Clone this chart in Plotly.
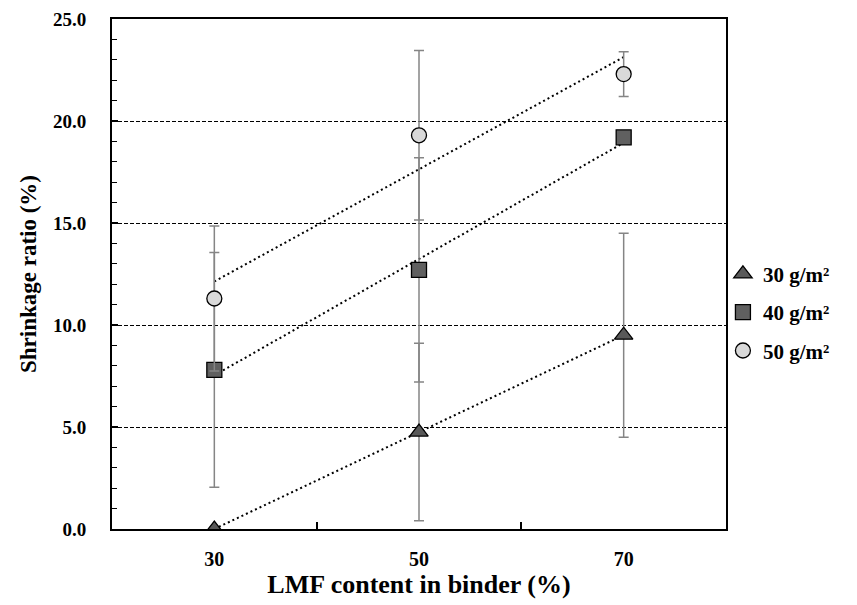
import numpy as np
import plotly.graph_objects as go

# ---- data ----
lmf_content = [30, 50, 70]
series_names = ["30 g/m²", "40 g/m²", "50 g/m²"]
shrink_30 = [0.0, 4.75, 9.5]
shrink_40 = [7.8, 12.7, 19.2]
shrink_50 = [11.3, 19.3, 22.3]
err_30 = [0.0, 4.35, 5.0]
err_40 = [5.75, 5.5, 0.0]
err_50 = [3.55, 4.15, 1.1]
y_tick_vals = [0, 5, 10, 15, 20, 25]
x_tick_vals = [30, 50, 70]

series = [
    (series_names[0], shrink_30, err_30, "triangle-up", "#595959", 16),
    (series_names[1], shrink_40, err_40, "square", "#606060", 15),
    (series_names[2], shrink_50, err_50, "circle", "#d9d9d9", 15),
]

FONT = "Liberation Serif, Times New Roman, serif"

fig = go.Figure()

# trendlines (linear fit) first so markers sit above them
xfit = np.array(lmf_content, dtype=float)
for name, ys, errs, sym, col, sz in series:
    k, b = np.polyfit(xfit, np.array(ys, dtype=float), 1)
    xl = np.array([xfit.min(), xfit.max()])
    fig.add_trace(go.Scatter(
        x=xl, y=k * xl + b, mode="lines",
        line=dict(color="black", width=2, dash="2px,3px"),
        showlegend=False, hoverinfo="skip"))

for i, (name, ys, errs, sym, col, sz) in enumerate(series):
    fig.add_trace(go.Scatter(
        x=lmf_content, y=ys, mode="markers", name=name,
        legendgroup=f"g{i}",
        marker=dict(symbol=sym, size=sz, color=col,
                    line=dict(color="black", width=1.3)),
        error_y=dict(type="data", array=errs, visible=True,
                     color="#858585", thickness=1.5, width=5),
    ))

fig.update_layout(
    width=857, height=605,
    margin=dict(l=112, r=131, t=19, b=76, autoexpand=False),
    paper_bgcolor="white", plot_bgcolor="white",
    font=dict(family=FONT, color="black", size=19),
    legend=dict(x=0.995, y=0.425, xanchor="left", yanchor="middle",
                font=dict(family=FONT, size=21, color="black", weight="bold"),
                itemwidth=30, tracegroupgap=8, bgcolor="rgba(0,0,0,0)"),
)

fig.update_xaxes(
    range=[20, 80], tickvals=x_tick_vals, ticktext=[str(v) for v in x_tick_vals],
    ticks="", showgrid=False, zeroline=False, automargin=False,
    showline=True, linecolor="black", linewidth=2, mirror=True,
    tickfont=dict(family=FONT, size=20, color="black", weight="bold"),
    ticklabelstandoff=11,
    minor=dict(tickvals=[40, 60], ticks="inside", ticklen=7,
               tickcolor="black", tickwidth=1.5, showgrid=False),
    title=dict(text="LMF content in binder (%)", standoff=0,
               font=dict(family=FONT, size=26, color="black", weight="bold")),
)

fig.update_yaxes(
    range=[0, 25], tickvals=y_tick_vals, tickformat=".1f",
    ticks="inside", ticklen=6, tickwidth=1.5, tickcolor="black",
    showgrid=True, gridcolor="black", gridwidth=1, griddash="4px,2px",
    zeroline=False, automargin=False,
    showline=True, linecolor="black", linewidth=2, mirror=True,
    tickfont=dict(family=FONT, size=19, color="black", weight="bold"),
    ticklabelstandoff=20,
    minor=dict(dtick=1, ticks="inside", ticklen=5, tickcolor="black",
               tickwidth=1, showgrid=False),
    title=dict(text="Shrinkage ratio (%)", standoff=10,
               font=dict(family=FONT, size=23, color="black", weight="bold")),
)

fig.write_html("out.html")
